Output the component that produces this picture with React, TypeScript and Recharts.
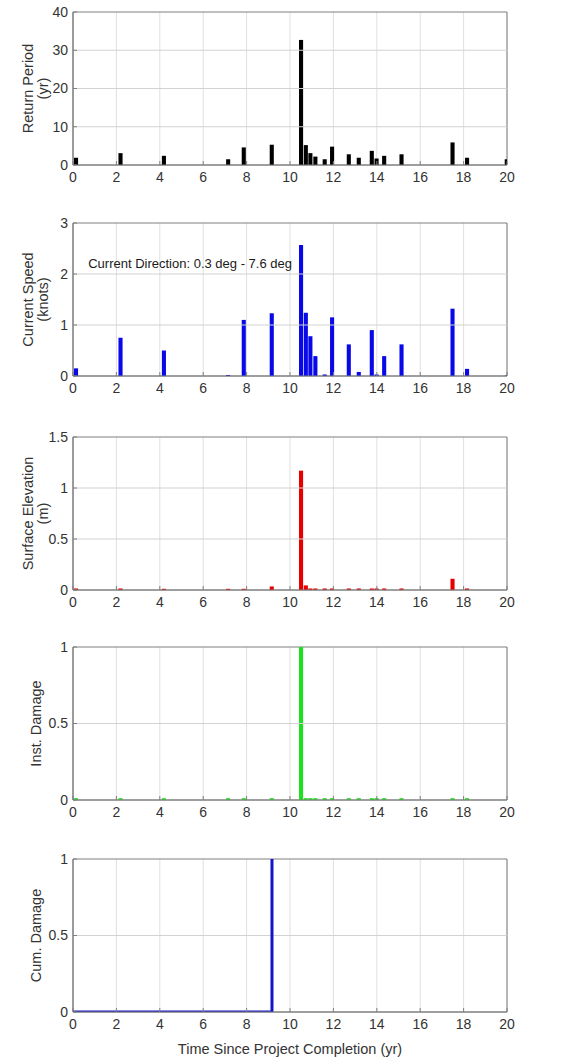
import React from "react";
import {
  ComposedChart,
  Bar,
  Line,
  XAxis,
  YAxis,
  CartesianGrid,
  ReferenceDot,
  ReferenceArea,
  ReferenceLine,
} from "recharts";

// Event times (yr since project completion)
const eventTimes = [0.15, 2.2, 4.2, 7.16, 7.88, 9.17, 10.52, 10.74, 10.95, 11.18, 11.61, 11.95, 12.72, 13.18, 13.78, 14.0, 14.35, 15.15, 17.5, 18.17, 20.0];
const returnPeriod = [1.9, 3.1, 2.4, 1.5, 4.6, 5.3, 32.7, 5.2, 3.1, 2.2, 1.5, 4.8, 2.8, 1.9, 3.7, 1.7, 2.4, 2.8, 5.9, 1.9, 1.5];
const currentSpeed = [0.15, 0.75, 0.5, 0.02, 1.1, 1.23, 2.57, 1.24, 0.78, 0.39, 0.03, 1.15, 0.62, 0.08, 0.9, 0.03, 0.39, 0.62, 1.32, 0.14, 0.01];
const surfaceElev = [0.015, 0.015, 0.012, 0.012, 0.012, 0.035, 1.17, 0.045, 0.015, 0.015, 0.015, 0.015, 0.015, 0.015, 0.015, 0.015, 0.015, 0.015, 0.11, 0.015, 0];
const instDamage = [0.012, 0.012, 0.012, 0.012, 0.012, 0.012, 1.0, 0.012, 0.012, 0.012, 0.012, 0.012, 0.012, 0.012, 0.012, 0.012, 0.012, 0.012, 0.012, 0.012, 0];
const cumTimes = [0, 9.17, 9.17];
const cumDamage = [0, 0, 1];

const xTicks = [0, 2, 4, 6, 8, 10, 12, 14, 16, 18, 20];
const rpTicks = [0, 10, 20, 30, 40];
const csTicks = [0, 1, 2, 3];
const seTicks = [0, 0.5, 1, 1.5];
const dmgTicks = [0, 0.5, 1];

const FONT = "'Liberation Sans', Arial, Helvetica, sans-serif";
const AXIS = "#7f7f7f";
const GRID = "#e0e0e0";
const HGRID = "#d2d2d2";
const TXT = "#333333";

const W = 575;
const PLOT_H = 153;
const TOP = 12;
const RIGHT = 68;
const LEFT_W = 73;

function makeYLabel(lines: string[]) {
  return (props: any) => {
    const vb = props.viewBox || {};
    const cy = (vb.y ?? 0) + (vb.height ?? 0) / 2;
    const cx = lines.length > 1 ? 33 : 41;
    return (
      <text
        x={cx}
        y={cy}
        transform={`rotate(-90 ${cx} ${cy})`}
        textAnchor="middle"
        fill={TXT}
        fontSize={14.5}
        fontFamily={FONT}
      >
        {lines.map((l, i) => (
          <tspan key={i} x={cx} dy={i === 0 ? 0 : 15}>
            {l}
          </tspan>
        ))}
      </text>
    );
  };
}

type PanelProps = {
  top: number;
  data: any[];
  yKey: string;
  yDomain: [number, number];
  yTicks: number[];
  yLabel: string[];
  color?: string;
  isLine?: boolean;
  xLabel?: string;
  annotation?: { x: number; y: number; text: string };
};

function Panel(p: PanelProps) {
  const xAxisH = p.xLabel ? 47 : 30;
  const h = TOP + PLOT_H + xAxisH;
  return (
    <div style={{ position: "absolute", left: 0, top: p.top, width: W, height: h }}>
      <ComposedChart
        width={W}
        height={h}
        data={p.data}
        margin={{ top: TOP, right: RIGHT, left: 0, bottom: 0 }}
      >
        <CartesianGrid stroke={GRID} strokeWidth={1} horizontal={false} vertical verticalValues={xTicks} />
        {p.yTicks
          .filter((v) => v > p.yDomain[0] && v < p.yDomain[1])
          .map((v) => (
            <ReferenceLine key={`g${v}`} y={v} stroke={HGRID} strokeWidth={1.2} ifOverflow="visible" />
          ))}
        <XAxis
          type="number"
          dataKey="t"
          domain={[0, 20]}
          ticks={xTicks}
          allowDataOverflow
          height={xAxisH}
          tickSize={-4}
          tickMargin={11}
          stroke={AXIS}
          tick={{ fill: TXT, fontSize: 14, fontFamily: FONT }}
          interval={0}
          label={
            p.xLabel
              ? {
                  value: p.xLabel,
                  position: "insideBottom",
                  offset: 5,
                  fill: TXT,
                  fontSize: 14.5,
                  fontFamily: FONT,
                }
              : undefined
          }
        />
        <YAxis
          type="number"
          domain={p.yDomain}
          ticks={p.yTicks}
          allowDataOverflow
          width={LEFT_W}
          tickSize={-4}
          tickMargin={9}
          stroke={AXIS}
          interval={0}
          tick={{ fill: TXT, fontSize: 14, fontFamily: FONT }}
          label={{ content: makeYLabel(p.yLabel) } as any}
        />
        <ReferenceArea
          x1={0}
          x2={20}
          y1={p.yDomain[0]}
          y2={p.yDomain[1]}
          fill="none"
          fillOpacity={0}
          stroke={AXIS}
          strokeWidth={1}
        />
        {p.isLine ? (
          <Line
            dataKey={p.yKey}
            type="linear"
            stroke={p.color}
            strokeWidth={3}
            dot={false}
            isAnimationActive={false}
          />
        ) : (
          <Bar dataKey={p.yKey} fill={p.color} barSize={5} isAnimationActive={false} />
        )}
        {p.annotation ? (
          <ReferenceDot
            x={p.annotation.x}
            y={p.annotation.y}
            r={0}
            stroke="none"
            fill="none"
            label={{
              value: p.annotation.text,
              position: "right",
              offset: 0,
              fill: "#1a1a1a",
              fontSize: 13,
              fontFamily: FONT,
            }}
          />
        ) : null}
      </ComposedChart>
    </div>
  );
}

const rpData = eventTimes.map((t, i) => ({ t, v: returnPeriod[i] }));
const csData = eventTimes.map((t, i) => ({ t, v: currentSpeed[i] }));
const seData = eventTimes.map((t, i) => ({ t, v: surfaceElev[i] }));
const idData = eventTimes.map((t, i) => ({ t, v: instDamage[i] }));
const cdData = cumTimes.map((t, i) => ({ t, v: cumDamage[i] }));

export default function App() {
  return (
    <div
      style={{
        position: "absolute",
        left: 0,
        top: 0,
        width: W,
        height: 1059,
        background: "#ffffff",
        overflow: "hidden",
      }}
    >
      <Panel top={0} data={rpData} yKey="v" yDomain={[0, 40]} yTicks={rpTicks} yLabel={["Return Period", "(yr)"]} color="#000000" />
      <Panel
        top={211}
        data={csData}
        yKey="v"
        yDomain={[0, 3]}
        yTicks={csTicks}
        yLabel={["Current Speed", "(knots)"]}
        color="#0808e8"
        annotation={{ x: 0.7, y: 2.2, text: "Current Direction: 0.3 deg - 7.6 deg" }}
      />
      <Panel top={425} data={seData} yKey="v" yDomain={[0, 1.5]} yTicks={seTicks} yLabel={["Surface Elevation", "(m)"]} color="#e60000" />
      <Panel top={635} data={idData} yKey="v" yDomain={[0, 1]} yTicks={dmgTicks} yLabel={["Inst. Damage"]} color="#1ee01e" />
      <Panel
        top={847}
        data={cdData}
        yKey="v"
        yDomain={[0, 1]}
        yTicks={dmgTicks}
        yLabel={["Cum. Damage"]}
        color="#1414c8"
        isLine
        xLabel="Time Since Project Completion (yr)"
      />
    </div>
  );
}
